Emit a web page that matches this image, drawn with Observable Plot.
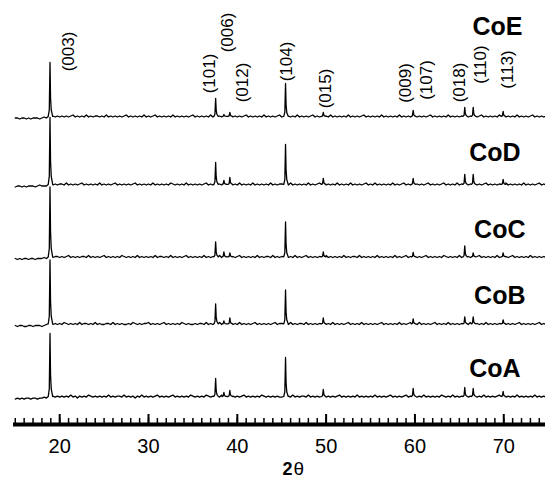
<!DOCTYPE html>
<html><head><meta charset="utf-8">
<script src="https://cdn.jsdelivr.net/npm/d3@7"></script>
<script src="https://cdn.jsdelivr.net/npm/@observablehq/plot@0.6"></script>
<style>body{margin:0;background:#fff} #chart svg{display:block}</style>
</head><body><div id="chart"></div>
<script>
// ---- data ----
const samples = ["CoA", "CoB", "CoC", "CoD", "CoE"];
const reflections = ["(003)", "(101)", "(006)", "(012)", "(104)", "(015)", "(009)", "(018)", "(110)", "(113)"];
const peakPositions = [18.91, 37.56, 38.49, 39.16, 45.43, 49.68, 59.8, 65.61, 66.56, 69.93];
// peak heights above each trace's baseline (arbitrary intensity units)
const heightsCoA = [63, 18, 4, 6, 39, 7, 8, 9, 8, 5];
const heightsCoB = [64, 20, 3, 6, 34, 6, 5, 7, 7, 4];
const heightsCoC = [70, 15, 5, 4, 35, 5, 4.5, 11, 4, 4];
const heightsCoD = [67, 22, 4, 7, 40, 6, 6, 10, 10, 5];
const heightsCoE = [54, 18, 2, 4, 33, 4, 6, 9, 9, 5];
// shape of a peak: [offset in 2θ, fraction of height]
const peakShape = [[-0.2, 0], [-0.08, 0.12], [0, 1], [0.06, 0.35], [0.14, 0.12], [0.3, 0]];
// background noise, every 0.25° from 15°
const bgStart = 15, bgStep = 0.25;
const noiseCoA = [-2,-1,-2,-1,-2,-1,-1,-2,-1,-1,-2,-1,-1,0,-1,0,1,1,0,1,
0,1,0,1,0,2,0,1,-1,1,0,1,0,2,1,0,1,0,1,0,
1,0,2,0,1,0,1,1,0,2,0,1,0,1,-1,1,0,2,0,1,
0,1,0,1,2,0,1,0,1,0,1,2,0,1,0,1,0,1,0,2,
1,0,1,0,1,0,2,1,0,1,0,1,0,2,0,1,1,0,1,0,
1,0,1,2,0,1,0,1,0,1,0,2,1,0,1,0,1,0,1,0,
0,1,0,1,0,2,0,1,0,1,1,0,2,0,1,0,1,0,2,1,
0,1,0,1,0,1,2,0,1,0,1,0,1,0,2,0,1,0,1,0,
1,0,2,0,1,0,1,0,1,2,0,1,0,1,0,1,2,0,1,0,
1,0,1,0,2,0,1,0,1,0,1,0,2,1,0,1,0,2,0,1,
0,1,0,2,0,1,0,1,0,1,0,2,0,1,0,1,0,1,2,0,
1,0,1,0,1,0,2,0,1,0,1,0,1,0,2,0,1,0,1,0];
const noiseCoB = [-1,-2,-1,-1,-2,-2,-1,-1,-2,-1,-1,-1,-2,-1,0,-1,1,0,1,0,
1,0,2,1,0,1,0,1,0,2,0,1,1,0,1,0,2,0,1,0,
0,1,1,0,2,0,1,0,1,0,0,1,0,2,1,0,1,0,1,1,
2,0,1,0,1,0,1,2,0,1,0,1,0,1,0,2,1,0,1,0,
0,1,0,1,1,0,2,0,1,0,1,0,2,0,1,0,1,1,0,1,
0,2,0,1,0,1,0,1,2,0,1,0,1,0,1,0,1,2,0,1,
1,0,1,0,2,0,1,0,1,1,0,2,0,1,0,1,0,1,0,2,
0,1,0,2,0,1,0,1,0,1,2,0,1,0,1,0,2,0,1,0,
1,0,1,0,1,2,0,1,0,1,0,1,0,2,0,1,0,1,2,0,
1,0,2,0,1,0,1,0,1,2,0,1,0,1,0,2,0,1,0,1,
0,1,0,1,0,2,1,0,1,0,1,0,2,0,1,0,1,0,1,0,
2,0,1,0,1,0,1,2,0,1,0,1,0,1,0,1,2,0,1,0];
const noiseCoC = [-1,-2,-1,-2,-1,-1,-2,-1,-1,-2,-1,-1,-1,0,-1,-1,1,0,1,1,
0,1,0,1,2,0,1,0,1,0,1,1,0,2,0,1,0,1,0,1,
2,0,1,0,1,0,1,0,2,1,0,1,0,1,0,2,0,1,0,1,
0,1,0,2,0,1,1,0,1,0,2,0,1,0,1,0,1,2,0,1,
0,1,0,1,0,2,0,1,0,1,0,1,2,0,1,0,1,0,1,0,
1,2,0,1,0,1,0,1,0,2,0,1,0,1,1,0,2,0,1,0,
1,0,1,0,1,0,2,0,1,0,1,2,0,1,0,1,0,1,0,1,
2,0,1,0,1,0,1,0,2,0,1,0,1,1,0,2,0,1,0,1,
0,1,0,2,0,1,0,1,0,1,0,2,0,1,0,1,2,0,1,0,
1,0,1,0,1,2,0,1,0,1,0,1,0,2,1,0,1,0,1,0,
2,0,1,0,1,0,1,0,1,2,0,1,0,1,0,1,0,2,0,1,
0,1,0,1,2,0,1,0,1,0,1,0,2,0,1,0,1,0,1,0];
const noiseCoD = [-2,-1,-1,-2,-1,-2,-1,-1,-1,-2,-1,0,-1,-1,-1,0,1,0,1,0,
1,1,0,2,0,1,0,1,0,1,2,0,1,0,1,0,1,0,2,0,
1,0,1,0,1,2,0,1,0,1,0,1,0,1,2,0,1,0,1,0,
1,0,2,0,1,0,1,0,1,0,2,1,0,1,0,1,0,2,0,1,
0,1,0,1,0,1,2,0,1,0,1,0,1,0,2,0,1,1,0,1,
0,2,0,1,0,1,0,2,0,1,0,1,0,1,0,2,0,1,0,1,
1,0,1,0,2,0,1,0,1,0,1,0,2,0,1,0,1,2,0,1,
0,1,0,1,0,2,0,1,0,1,0,2,0,1,0,1,0,1,2,0,
1,0,2,0,1,0,1,0,1,0,2,0,1,0,1,2,0,1,0,1,
0,1,0,1,0,1,2,0,1,0,1,0,1,2,0,1,0,1,0,2,
0,1,0,2,0,1,0,1,0,1,0,1,2,0,1,0,1,0,1,0,
1,2,0,1,0,1,0,1,0,2,0,1,0,1,0,1,2,0,1,0];
const noiseCoE = [-1,-1,-2,-1,-1,-2,-1,-2,-1,-1,-1,-2,-1,0,-1,0,0,1,0,1,
0,1,0,1,0,1,2,0,1,0,1,0,2,0,1,0,1,1,0,1,
0,2,0,1,0,1,0,1,0,1,2,0,1,0,1,0,1,0,2,0,
1,0,1,2,0,1,0,1,0,1,0,2,0,1,0,1,0,1,0,1,
2,0,1,0,1,0,1,0,2,0,1,0,1,0,1,2,0,1,0,1,
0,1,0,1,2,0,1,0,1,0,1,0,2,0,1,0,1,0,1,2,
0,1,0,1,0,1,0,2,0,1,0,1,0,1,2,0,1,0,1,0,
1,0,2,0,1,0,1,0,1,0,2,0,1,0,1,0,1,2,0,1,
0,1,0,1,0,2,0,1,0,1,0,1,0,2,0,1,0,1,0,1,
2,0,1,0,1,0,1,2,0,1,0,1,0,1,0,2,0,1,0,1,
0,1,0,2,0,1,0,1,0,1,2,0,1,0,1,0,1,0,2,0,
1,0,1,0,1,0,2,0,1,0,1,0,1,2,0,1,0,1,0,1];
// Miller-index labels above the top pattern
const hklLabels = ["(003)", "(101)", "(006)", "(012)", "(104)", "(015)", "(009)", "(107)", "(018)", "(110)", "(113)"];
const xTicks = [20, 30, 40, 50, 60, 70];
const minorTicks = [15,16,17,18,19,20,21,22,23,24,25,26,27,28,29,30,31,32,33,34,35,36,37,38,39,40,41,42,43,44,45,46,47,48,49,50,51,52,53,54,55,56,57,58,59,60,61,62,63,64,65,66,67,68,69,70,71,72,73,74];
const xLabel = ["2", "θ"];

// ---- layout (stack offsets and label placement) ----
const offsets = [27.4, 100, 167, 239.5, 307.5];
const sampleLabelLift = [20, 20.5, 19.5, 24, 82.5];
const sampleLabelX = [69.0, 69.55, 69.55, 69.0, 69.3];
const hklLabelX = [20.96, 36.88, 38.85, 40.54, 45.55, 49.93, 58.94, 61.30, 65.01, 67.38, 70.42];
const hklLabelY = [373, 351, 392, 342, 363, 336, 341.5, 344.5, 342, 360, 355];

const heights = [heightsCoA, heightsCoB, heightsCoC, heightsCoD, heightsCoE];
const noises = [noiseCoA, noiseCoB, noiseCoC, noiseCoD, noiseCoE];

const rows = [];
samples.forEach((s, k) => {
  const pts = [];
  noises[k].forEach((n, i) => {
    const x = bgStart + bgStep * i;
    const inPeak = peakPositions.some(c => x >= c + peakShape[0][0] && x <= c + peakShape[peakShape.length - 1][0]);
    if (!inPeak) pts.push({sample: s, x, v: offsets[k] + n});
  });
  peakPositions.forEach((c, j) => {
    peakShape.forEach(([dx, f]) => pts.push({sample: s, x: c + dx, v: offsets[k] + 0.6 + heights[k][j] * f}));
  });
  pts.sort((a, b) => a.x - b.x);
  rows.push(...pts);
});

const font = "'Liberation Sans', Arial, Helvetica, sans-serif";
const chart = Plot.plot({
  width: 545,
  height: 479,
  marginLeft: 13,
  marginRight: 0,
  marginTop: 0,
  marginBottom: 55,
  style: {fontFamily: font, background: "white", color: "black"},
  x: {domain: [14.8, 74.7]},
  y: {domain: [0, 424], axis: null},
  marks: [
    Plot.line(rows, {x: "x", y: "v", z: "sample", stroke: "black", strokeWidth: 1.3}),
    Plot.ruleY([0], {strokeWidth: 4, stroke: "black"}),
    Plot.ruleX(minorTicks, {x: d => d, y1: 0, y2: 6, strokeWidth: 1.5, stroke: "black"}),
    Plot.ruleX(xTicks, {x: d => d, y1: 0, y2: 10, strokeWidth: 2, stroke: "black"}),
    Plot.axisX(xTicks, {tickSize: 0, tickPadding: 14, fontSize: 20, label: null}),
    Plot.text(samples, {x: (d, i) => sampleLabelX[i], y: (d, i) => offsets[i] + sampleLabelLift[i], text: d => d,
      fontSize: 25, fontWeight: "bold", lineAnchor: "bottom", textAnchor: "middle"}),
    Plot.text(hklLabels, {x: (d, i) => hklLabelX[i], y: (d, i) => hklLabelY[i], text: d => d,
      rotate: -90, fontSize: 17, textAnchor: "middle", lineAnchor: "middle"}),
    Plot.text([xLabel[0]], {x: () => 46.22, y: () => -50, text: d => d, fontSize: 18, fontWeight: "bold", textAnchor: "end", lineAnchor: "bottom"}),
    Plot.text([xLabel[1]], {x: () => 46.22, y: () => -50, text: d => d, fontSize: 19, textAnchor: "start", lineAnchor: "bottom", dx: 1})
  ]
});
document.getElementById("chart").appendChild(chart);
</script>
</body></html>
